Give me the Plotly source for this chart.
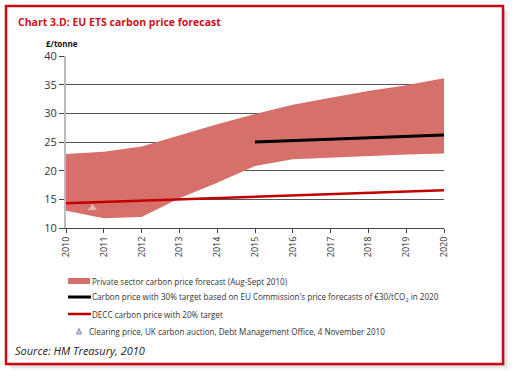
import plotly.graph_objects as go

years = [2010, 2011, 2012, 2013, 2014, 2015, 2016, 2017, 2018, 2019, 2020]
band_low = [13.0, 11.7, 11.9, 15.2, 17.9, 20.8, 22.0, 22.3, 22.5, 22.8, 23.0]
band_high = [22.9, 23.3, 24.2, 26.2, 28.1, 29.9, 31.5, 32.7, 33.9, 34.9, 36.1]
eu30_years = [2015, 2020]
eu30_vals = [25.0, 26.2]
decc_years = [2010, 2020]
decc_vals = [14.3, 16.6]
auction_x = [2010.7]
auction_y = [13.5]
yticks = [10, 15, 20, 25, 30, 35, 40]

legend_labels = [
    "Private sector carbon price forecast (Aug-Sept 2010)",
    "Carbon price with 30% target based on EU Commission's price forecasts of €30/tCO<sub>2</sub> in 2020",
    "DECC carbon price with 20% target",
    "Clearing price, UK carbon auction, Debt Management Office, 4 November 2010",
]

BAND = "#d6706a"
RED = "#c00000"
FONT = "Open Sans"

W, H = 512, 377
L, R, T, B = 66, 444, 56, 228


def px(x):
    return (x - L) / (R - L)


def py(y):
    return (B - y) / (B - T)


fig = go.Figure()
fig.add_trace(go.Scatter(x=years, y=band_low, mode="lines", line=dict(width=0, color=BAND),
                         showlegend=False, hoverinfo="skip"))
fig.add_trace(go.Scatter(x=years, y=band_high, mode="lines", line=dict(width=0, color=BAND),
                         fill="tonexty", fillcolor=BAND, showlegend=False))
fig.add_trace(go.Scatter(x=eu30_years, y=eu30_vals, mode="lines", line=dict(width=3, color="#000000"),
                         showlegend=False))
fig.add_trace(go.Scatter(x=decc_years, y=decc_vals, mode="lines", line=dict(width=2.5, color=RED),
                         showlegend=False))
fig.add_trace(go.Scatter(x=auction_x, y=auction_y, mode="markers",
                         marker=dict(symbol="triangle-up", size=8, color="#eab9b5"),
                         showlegend=False))

shapes = []
# frame shadow
for off, op in [(6, 0.06), (4, 0.1), (2, 0.16)]:
    shapes.append(dict(type="rect", xref="paper", yref="paper",
                       x0=px(6 + off), x1=px(503 + off), y0=py(364 + off), y1=py(6 + off),
                       line=dict(width=0), fillcolor=f"rgba(90,90,90,{op})", layer="below"))
shapes.append(dict(type="rect", xref="paper", yref="paper",
                   x0=px(6), x1=px(503), y0=py(364), y1=py(6),
                   line=dict(width=2.5, color="#cc0a14"), fillcolor="white", layer="below"))

# legend symbols
rows = [281, 297, 314, 331]
shapes.append(dict(type="rect", xref="paper", yref="paper", x0=px(68), x1=px(90),
                   y0=py(rows[0] + 3), y1=py(rows[0] - 3), line=dict(width=0), fillcolor=BAND))
shapes.append(dict(type="line", xref="paper", yref="paper", x0=px(68), x1=px(91),
                   y0=py(rows[1]), y1=py(rows[1]), line=dict(width=3, color="#000000")))
shapes.append(dict(type="line", xref="paper", yref="paper", x0=px(68), x1=px(91),
                   y0=py(rows[2]), y1=py(rows[2]), line=dict(width=2.5, color=RED)))
shapes.append(dict(type="path", xref="paper", yref="paper",
                   path=f"M {px(76.5)} {py(334)} L {px(81.5)} {py(334)} L {px(79)} {py(328.5)} Z",
                   line=dict(width=1, color="#8090b8"), fillcolor="#c8d0e8"))

annotations = [
    dict(text="<b>Chart 3.D: EU ETS carbon price forecast</b>", xref="paper", yref="paper",
         x=px(16), y=py(22), xanchor="left", yanchor="middle", showarrow=False,
         font=dict(family=FONT, size=10.5, color="#cc1020")),
    dict(text="<b>£/tonne</b>", xref="paper", yref="paper", x=px(62), y=py(43),
         xanchor="center", yanchor="middle", showarrow=False,
         font=dict(family=FONT, size=8, color="#111111")),
    dict(text="<i>Source: HM Treasury, 2010</i>", xref="paper", yref="paper", x=px(13), y=py(350),
         xanchor="left", yanchor="middle", showarrow=False,
         font=dict(family=FONT, size=11, color="#222222")),
]
for i, lab in enumerate(legend_labels):
    annotations.append(dict(text=lab, xref="paper", yref="paper", x=px(90 if i < 3 else 87), y=py(rows[i]),
                            xanchor="left", yanchor="middle", showarrow=False,
                            font=dict(family=FONT, size=8.1, color="#333333")))

fig.update_layout(
    width=W, height=H,
    margin=dict(l=L, r=W - R, t=T, b=H - B, pad=0),
    paper_bgcolor="white", plot_bgcolor="rgba(0,0,0,0)",
    showlegend=False,
    shapes=shapes, annotations=annotations,
    xaxis=dict(range=[2010, 2020], tickmode="array", tickvals=years, ticktext=[str(y) for y in years],
               tickangle=-90, ticks="outside", ticklen=4, tickcolor="#444444", showgrid=False,
               showline=True, linecolor="#444444", linewidth=1, zeroline=False,
               tickfont=dict(family=FONT, size=9, color="#333333")),
    yaxis=dict(range=[10, 40], tickmode="array", tickvals=yticks, ticks="outside", ticklen=5,
               tickcolor="#444444", showgrid=True, gridcolor="#555555", gridwidth=1,
               showline=True, linecolor="#bbbbbb", linewidth=2, zeroline=False,
               tickfont=dict(family=FONT, size=11, color="#333333")),
)

fig.write_html("out.html", config={"displayModeBar": False},
               post_script="document.body.style.margin='0';document.body.style.padding='0';")
